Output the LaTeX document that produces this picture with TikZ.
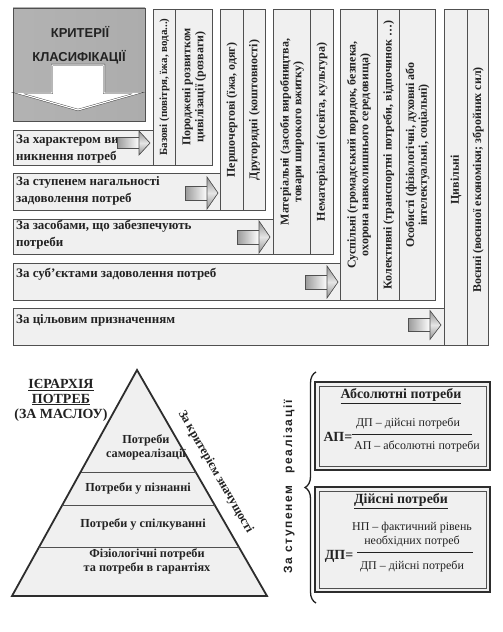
\documentclass[tikz,border=0pt]{standalone}
\usepackage{fontspec}
\setmainfont{Liberation Serif}
\newfontfamily\hdrsans{Liberation Sans}
\newfontfamily\spsans[LetterSpace=14]{Liberation Sans}
\usetikzlibrary{calc,decorations.pathreplacing}
\definecolor{boxfill}{HTML}{F0F0F0}
\definecolor{boxline}{HTML}{505050}
\definecolor{txt}{HTML}{222222}
\tikzset{
  cell/.style={draw=boxline, fill=boxfill, line width=0.8bp},
  rowtxt/.style={font=\fontsize{13}{17}\selectfont\bfseries, anchor=north west, align=left, inner sep=0pt, text=txt},
  coltxt/.style={font=\fontsize{12}{13}\selectfont\bfseries, rotate=90, align=center, inner sep=0pt, text=txt},
  pyrtxt/.style={font=\fontsize{12.3}{14}\selectfont\bfseries, align=center, inner sep=0pt, text=txt},
  frtxt/.style={font=\fontsize{12}{14}\selectfont, align=center, inner sep=0pt, text=txt},
  ttltxt/.style={font=\fontsize{14}{16}\selectfont\bfseries, align=center, inner sep=0pt, text=txt},
  eqtxt/.style={font=\fontsize{14}{16}\selectfont\bfseries, inner sep=0pt, text=txt},
  rarrow/.pic={
    \fill[left color=gray!80, right color=white] (-33,-7) rectangle (-11,7);
    \draw[boxline, line width=0.6bp] (-33,-7) rectangle (-11,7);
    \fill[top color=gray!85, bottom color=gray!85, middle color=gray!20] (-11,-16) -- (0,0) -- (-11,16) -- cycle;
    \draw[boxline, line width=0.6bp, line join=miter] (-11,-16) -- (0,0) -- (-11,16) -- cycle;
  }
}
\begin{document}
\begin{tikzpicture}[x=1bp,y=-1bp]
\useasboundingbox (0,0) rectangle (503,632);
% header
\shade[left color=gray!60, middle color=gray!8, right color=gray!65, shading angle=90] (13,8) rectangle (145,121);
\draw[boxline, line width=0.8bp] (13,8) rectangle (145,121);
\node[font=\hdrsans\fontsize{13}{15}\selectfont\bfseries, text=txt, inner sep=0pt] (hd1) at (80,32) {КРИТЕРІЇ};
\draw[fill=white, draw=gray!40!black, double=white, double distance=1.2bp, line join=miter]
  (52,65) -- (104,65) -- (104,93) -- (138,93) -- (78,110) -- (18,93) -- (52,93) -- cycle;
\node[font=\hdrsans\fontsize{13}{15}\selectfont\bfseries, text=txt, inner sep=0pt] (hd2) at (79,57) {КЛАСИФІКАЦІЇ};
% rows
\draw[cell] (13,130) rectangle (153,165);
\draw[cell] (13,173) rectangle (220,210);
\draw[cell] (13,219) rectangle (273,254);
\draw[cell] (13,263) rectangle (340,300);
\draw[cell] (13,308) rectangle (444,345);
\node[rowtxt] (r1) at (16,134.5) {За характером ви-\\никнення потреб};
\node[rowtxt] (r2) at (16,176.5) {За ступенем нагальності\\задоволення потреб};
\node[rowtxt] (r3) at (16,220.5) {За засобами, що забезпечують\\потреби};
\node[rowtxt] (r4) at (16,268.5) {За суб’єктами задоволення потреб};
\node[rowtxt] (r5) at (16,314.5) {За цільовим призначенням};
\pic[yscale=0.75] at (150,143) {rarrow};
\pic at (218,193) {rarrow};
\pic at (270,237) {rarrow};
\pic at (338,282) {rarrow};
\pic[yscale=0.9] at (441,325) {rarrow};
% group 1
\draw[cell] (153,9) rectangle (175,165);
\draw[cell] (175,9) rectangle (212,165);
\node[coltxt, font=\fontsize{11}{13}\selectfont\bfseries] (c11) at (164.5,87) {Базові (повітря, їжа, вода...)};
\node[coltxt] (c12) at (194,87) {Породжені розвитком\\цивілізації (розваги)};
% group 2
\draw[cell] (220,9) rectangle (243,210);
\draw[cell] (243,9) rectangle (265,210);
\node[coltxt] (c21) at (232,110) {Першочергові (їжа, одяг)};
\node[coltxt] (c22) at (254.5,110) {Другорядні (коштовності)};
% group 3
\draw[cell] (273,9) rectangle (310,254);
\draw[cell] (310,9) rectangle (333,254);
\node[coltxt] (c31) at (292,132) {Матеріальні (засоби виробництва,\\товари широкого вжитку)};
\node[coltxt] (c32) at (322,132) {Нематеріальні (освіта, культура)};
% group 4
\draw[cell] (340,9) rectangle (377,300);
\draw[cell] (377,9) rectangle (399,300);
\draw[cell] (399,9) rectangle (435,300);
\node[coltxt] (c41) at (359,155) {Суспільні (громадський порядок, безпека,\\охорона навколишнього середовища)};
\node[coltxt] (c42) at (388.5,155) {Колективні (транспортні потреби, відпочинок …)};
\node[coltxt] (c43) at (417.5,155) {Особисті (фізіологічні, духовні або\\інтелектуальні, соціальні)};
% group 5
\draw[cell] (444,9) rectangle (467,345);
\draw[cell] (467,9) rectangle (488,345);
\node[coltxt] (c51) at (456,180) {Цивільні};
\node[coltxt] (c52) at (478,180) {Воєнні (воєнної економіки; збройних сил)};
% pyramid
\coordinate (apex) at (137,370);
\coordinate (bl) at (12,596);
\coordinate (br) at (267,596);
\draw[fill=boxfill, draw=gray!35!black, line width=1.8bp, line join=miter] (apex) -- (br) -- (bl) -- cycle;
\draw[boxline, line width=0.8bp] ($(apex)!0.4513!(bl)$) -- ($(apex)!0.4513!(br)$);
\draw[boxline, line width=0.8bp] ($(apex)!0.5973!(bl)$) -- ($(apex)!0.5973!(br)$);
\draw[boxline, line width=0.8bp] ($(apex)!0.7832!(bl)$) -- ($(apex)!0.7832!(br)$);
\node[pyrtxt] (p1) at (146,447) {Потреби\\самореалізації};
\node[pyrtxt] (p2) at (138,488.5) {Потреби у пізнанні};
\node[pyrtxt] (p3) at (143,524.5) {Потреби у спілкуванні};
\node[pyrtxt] (p4) at (147,561) {Фізіологічні потреби\\та потреби в гарантіях};
\node[font=\fontsize{14}{15}\selectfont\bfseries, align=center, inner sep=0pt, text=txt] (hier) at (61,400) {\underline{ІЄРАРХІЯ}\\\underline{ПОТРЕБ}\\(ЗА МАСЛОУ)};
\node[font=\fontsize{12.5}{14}\selectfont\bfseries, rotate=-60.2, inner sep=0pt, text=txt] (crit) at (215.5,472) {За критерієм значущості};
% brace and rotated label
\node[font=\spsans\fontsize{12}{14}\selectfont\bfseries, rotate=90, inner sep=0pt, text=txt] (real) at (289,487) {За ступенем\quad реалізації};
\draw[decorate, decoration={brace, amplitude=11bp}, line width=1.3bp, gray!25!black] (316,603) -- (316,372);
% box 1
\draw[fill=boxfill, draw=gray!35!black, line width=1.6bp] (315,382) rectangle (490,470);
\draw[boxline, line width=0.5bp] (319,386) rectangle (486,466);
\node[ttltxt] (t1) at (401,396) {\underline{Абсолютні потреби}};
\node[eqtxt] (ap) at (338,437) {АП=};
\node[frtxt] (n1) at (408,423) {ДП – дійсні потреби};
\node[frtxt] (d1) at (417,446) {АП – абсолютні потреби};
\draw[txt, line width=0.8bp] (352,434.5) -- (472,434.5);
% box 2
\draw[fill=boxfill, draw=gray!35!black, line width=1.6bp] (315,487) rectangle (490,592);
\draw[boxline, line width=0.5bp] (319,491) rectangle (486,588);
\node[ttltxt] (t2) at (401,501) {\underline{Дійсні потреби}};
\node[eqtxt] (dp) at (339,556) {ДП=};
\node[frtxt] (n2) at (412,535) {НП – фактичний рівень\\необхідних потреб};
\node[frtxt] (d2) at (412,566) {ДП – дійсні потреби};
\draw[txt, line width=0.8bp] (357,552.5) -- (473,552.5);
\end{tikzpicture}
\end{document}
